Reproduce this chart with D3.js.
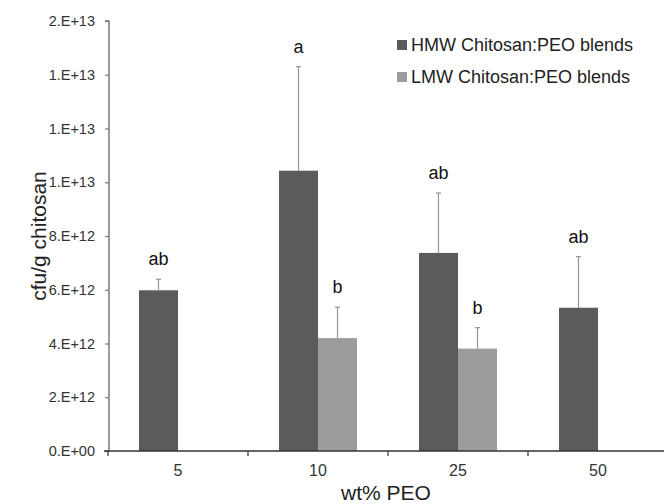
<!DOCTYPE html>
<html>
<head>
<meta charset="utf-8">
<script src="https://cdn.jsdelivr.net/npm/d3@7"></script>
<style>
  html, body { margin: 0; padding: 0; background: #fff; }
  svg { display: block; font-family: "Liberation Sans", Arial, sans-serif; }
</style>
</head>
<body>
<svg id="chart" width="664" height="504"></svg>
<script>
// ---- data ----
const categories = ["5", "10", "25", "50"];
const seriesNames = ["HMW Chitosan:PEO blends", "LMW Chitosan:PEO blends"];
const hmwValues = [5.98e12, 1.043e13, 7.37e12, 5.33e12];
const hmwErrors = [0.41e12, 3.87e12, 2.23e12, 1.90e12];
const hmwLetters = ["ab", "a", "ab", "ab"];
const lmwValues = [null, 4.20e12, 3.81e12, null];
const lmwErrors = [null, 1.15e12, 0.78e12, null];
const lmwLetters = [null, "b", "b", null];
const yTickValues = [0, 2e12, 4e12, 6e12, 8e12, 1e13, 1.2e13, 1.4e13, 1.6e13];
const yTickLabels = ["0.E+00", "2.E+12", "4.E+12", "6.E+12", "8.E+12", "1.E+13", "1.E+13", "1.E+13", "2.E+13"];
const xTitle = "wt% PEO";
const yTitle = "cfu/g chitosan";

(function () {
// ---- build rows ----
const keys = ["HMW", "LMW"];
const colors = { HMW: "#5b5b5b", LMW: "#9c9c9c" };
const rows = [];
categories.forEach((c, i) => {
  if (hmwValues[i] != null) rows.push({ cat: c, key: "HMW", v: hmwValues[i], e: hmwErrors[i], lab: hmwLetters[i] });
  if (lmwValues[i] != null) rows.push({ cat: c, key: "LMW", v: lmwValues[i], e: lmwErrors[i], lab: lmwLetters[i] });
});

const svg = d3.select("#chart");
const pl = 108, pr = 668, pt = 21, pb = 451;

const x = d3.scaleBand().domain(categories).range([pl, pr]).paddingInner(0).paddingOuter(0);
const x1 = d3.scaleBand().domain(keys).range([0, x.bandwidth()]).paddingInner(0).paddingOuter(0.795);
const y = d3.scaleLinear().domain([0, 1.6e13]).range([pb, pt]);

// bars
svg.append("g").selectAll("rect").data(rows).join("rect")
  .attr("x", d => x(d.cat) + x1(d.key))
  .attr("y", d => y(d.v))
  .attr("width", x1.bandwidth())
  .attr("height", d => y(0) - y(d.v))
  .attr("fill", d => colors[d.key]);

// error bars (upper only)
const eg = svg.append("g").attr("stroke", "#959595").attr("stroke-width", 1.2);
eg.selectAll("line.v").data(rows).join("line").attr("class", "v")
  .attr("x1", d => x(d.cat) + x1(d.key) + x1.bandwidth() / 2)
  .attr("x2", d => x(d.cat) + x1(d.key) + x1.bandwidth() / 2)
  .attr("y1", d => y(d.v))
  .attr("y2", d => y(d.v + d.e));
eg.selectAll("line.c").data(rows).join("line").attr("class", "c")
  .attr("x1", d => x(d.cat) + x1(d.key) + x1.bandwidth() / 2 - 2.5)
  .attr("x2", d => x(d.cat) + x1(d.key) + x1.bandwidth() / 2 + 2.5)
  .attr("y1", d => y(d.v + d.e))
  .attr("y2", d => y(d.v + d.e));

// significance letters
svg.append("g").selectAll("text").data(rows).join("text")
  .attr("x", d => x(d.cat) + x1(d.key) + x1.bandwidth() / 2)
  .attr("y", d => y(d.v + d.e) - 14)
  .attr("text-anchor", "middle")
  .attr("font-size", 18)
  .attr("fill", "#111")
  .text(d => d.lab);

// y axis
const yAxis = d3.axisLeft(y).tickValues(yTickValues)
  .tickFormat((d, i) => yTickLabels[i]).tickSize(4).tickPadding(10);
const gy = svg.append("g").attr("transform", `translate(${pl + 1},0)`).call(yAxis);
gy.select(".domain").attr("stroke", "#7a7a7a").attr("stroke-width", 1.5)
  .attr("d", `M-4,${pt}H0V${pb}`);
gy.selectAll(".tick line").attr("stroke", "#7a7a7a").attr("stroke-width", 1.2);
gy.selectAll(".tick text").attr("font-size", 14.5).attr("fill", "#333")
  .attr("font-family", "'Liberation Sans', Arial, sans-serif");

// x axis
const xAxis = d3.axisBottom(x).tickSize(0).tickPadding(14);
const gx = svg.append("g").attr("transform", `translate(0,${pb})`).call(xAxis);
gx.select(".domain").attr("stroke", "#333").attr("stroke-width", 1.3).attr("d", `M${pl - 4},0H${pr}`);
gx.selectAll(".tick text").attr("font-size", 16).attr("fill", "#333")
  .attr("font-family", "'Liberation Sans', Arial, sans-serif");
// category separator ticks
const sepVals = categories.map(c => x(c)).concat([x(categories[categories.length - 1]) + x.bandwidth()]);
gx.append("g").selectAll("line").data(sepVals).join("line")
  .attr("x1", d => d).attr("x2", d => d)
  .attr("y1", 0).attr("y2", 5)
  .attr("stroke", "#333").attr("stroke-width", 1.2);

// axis titles
svg.append("text")
  .attr("x", (pl + pr) / 2 - 2).attr("y", 500)
  .attr("text-anchor", "middle").attr("font-size", 21).attr("fill", "#222")
  .text(xTitle);
svg.append("text")
  .attr("transform", `translate(46,${(pt + pb) / 2}) rotate(-90)`)
  .attr("text-anchor", "middle").attr("font-size", 21).attr("fill", "#222")
  .text(yTitle);

// legend
const lg = svg.append("g");
keys.forEach((k, i) => {
  const ly = 45 + i * 32;
  lg.append("rect").attr("x", 397).attr("y", ly - 5).attr("width", 10).attr("height", 10).attr("fill", colors[k]);
  lg.append("text").attr("x", 411).attr("y", ly + 6).attr("font-size", 18).attr("fill", "#222")
    .text(seriesNames[i]);
});
})();
</script>
</body>
</html>
